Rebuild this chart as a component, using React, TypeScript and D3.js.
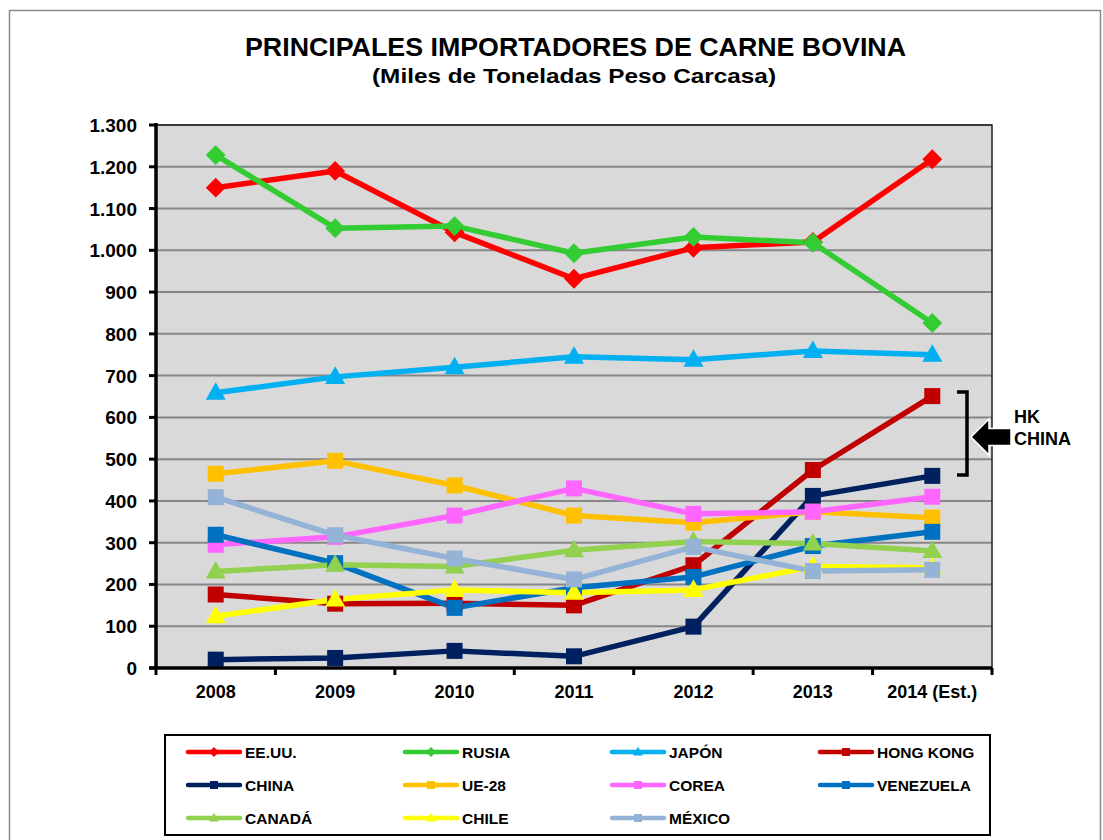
import React from "react";
import * as d3 from "d3";

const years = ["2008", "2009", "2010", "2011", "2012", "2013", "2014 (Est.)"];
const yTicks = [0, 100, 200, 300, 400, 500, 600, 700, 800, 900, 1000, 1100, 1200, 1300];

const eeuu = [1150, 1190, 1043, 932, 1006, 1020, 1218];
const rusia = [1228, 1053, 1058, 993, 1032, 1018, 826];
const japon = [659, 697, 720, 745, 738, 759, 750];
const hongKong = [176, 154, 155, 150, 246, 474, 651];
const china = [20, 24, 41, 28, 99, 412, 460];
const ue28 = [465, 496, 437, 365, 348, 374, 360];
const corea = [295, 314, 365, 430, 369, 374, 410];
const venezuela = [319, 251, 144, 192, 218, 292, 326];
const canada = [231, 247, 243, 282, 303, 298, 280];
const chile = [124, 164, 187, 180, 187, 243, 240];
const mexico = [409, 318, 262, 212, 290, 232, 235];

const series = [
  { name: "EE.UU.", values: eeuu, color: "#FF0000", marker: "diamond" },
  { name: "RUSIA", values: rusia, color: "#33CC33", marker: "diamond" },
  { name: "JAPÓN", values: japon, color: "#00B0F0", marker: "triangle" },
  { name: "HONG KONG", values: hongKong, color: "#C00000", marker: "square" },
  { name: "CHINA", values: china, color: "#002060", marker: "square" },
  { name: "UE-28", values: ue28, color: "#FFC000", marker: "square" },
  { name: "COREA", values: corea, color: "#FF66FF", marker: "square" },
  { name: "VENEZUELA", values: venezuela, color: "#0070C0", marker: "square" },
  { name: "CANADÁ", values: canada, color: "#92D050", marker: "triangle" },
  { name: "CHILE", values: chile, color: "#FFFF00", marker: "triangle" },
  { name: "MÉXICO", values: mexico, color: "#95B3D7", marker: "square" },
];

const font = "'Liberation Sans', Arial, sans-serif";

function Marker({ type, x, y, color, s }: { type: string; x: number; y: number; color: string; s: number }) {
  if (type === "square") {
    return <rect x={x - s / 2} y={y - s / 2} width={s} height={s} fill={color} />;
  }
  if (type === "diamond") {
    const r = s * 0.62;
    return <path d={`M${x},${y - r}L${x + r},${y}L${x},${y + r}L${x - r},${y}Z`} fill={color} />;
  }
  const w = s * 1.25;
  const h = s * 1.1;
  return <path d={`M${x},${y - h * 0.6}L${x + w / 2},${y + h * 0.4}L${x - w / 2},${y + h * 0.4}Z`} fill={color} />;
}

export default function App() {
  const left = 156;
  const right = 992;
  const top = 125;
  const bottom = 668;

  const x = d3.scaleBand().domain(years).range([left, right]);
  const y = d3.scaleLinear().domain([0, 1300]).range([bottom, top]);
  const fmt = d3.formatLocale({ decimal: ",", thousands: ".", grouping: [3], currency: ["", ""] }).format(",d");
  const cx = (d: string) => (x(d) as number) + x.bandwidth() / 2;

  const line = d3
    .line<number>()
    .x((_, i) => cx(years[i]))
    .y((v) => y(v));

  const legendCols = [188, 405, 612, 820];
  const legendRows = [752, 785, 818];

  return (
    <svg width={1103} height={840} style={{ position: "absolute", left: 0, top: 0 }} fontFamily={font}>
      <rect x={0} y={0} width={1103} height={840} fill="#fff" />
      <rect x={9.5} y={10.5} width={1091} height={840} fill="none" stroke="#888" strokeWidth={1.5} />

      <text x={575.5} y={56} textAnchor="middle" fontSize={25} fontWeight="bold" textLength={661} lengthAdjust="spacingAndGlyphs">
        PRINCIPALES IMPORTADORES DE CARNE BOVINA
      </text>
      <text x={574} y={83} textAnchor="middle" fontSize={20} fontWeight="bold" textLength={404} lengthAdjust="spacingAndGlyphs">
        (Miles de Toneladas Peso Carcasa)
      </text>

      <rect x={left} y={top} width={right - left} height={bottom - top} fill="#D9D9D9" />
      {yTicks.slice(1).map((t) => (
        <line key={t} x1={left} x2={right} y1={y(t)} y2={y(t)} stroke="#868686" strokeWidth={2} />
      ))}
      <path d={`M${left},${top}H${right}V${bottom}`} fill="none" stroke="#222" strokeWidth={1.5} />

      {series.map((s) => (
        <path key={s.name} d={line(s.values) || ""} fill="none" stroke={s.color} strokeWidth={5.5} strokeLinejoin="round" />
      ))}
      {series.map((s) =>
        s.values.map((v, i) => (
          <Marker key={s.name + i} type={s.marker} x={cx(years[i])} y={y(v)} color={s.color} s={16} />
        ))
      )}

      <line x1={left} x2={left} y1={top - 2} y2={bottom + 1.5} stroke="#000" strokeWidth={3.5} />
      <line x1={left - 7} x2={right} y1={bottom} y2={bottom} stroke="#000" strokeWidth={3.5} />
      {yTicks.map((t) => (
        <g key={t}>
          <line x1={left - 7} x2={left} y1={y(t)} y2={y(t)} stroke="#000" strokeWidth={3} />
          <text x={137} y={y(t) + 7} textAnchor="end" fontSize={19} fontWeight="bold">
            {fmt(t)}
          </text>
        </g>
      ))}
      {years.map((yr, i) => (
        <g key={yr}>
          <line x1={(x(yr) as number) + x.bandwidth()} x2={(x(yr) as number) + x.bandwidth()} y1={bottom} y2={bottom + 7} stroke="#000" strokeWidth={3} />
          {i === 0 && <line x1={left} x2={left} y1={bottom} y2={bottom + 7} stroke="#000" strokeWidth={3} />}
          <text x={cx(yr)} y={698} textAnchor="middle" fontSize={18} fontWeight="bold">
            {yr}
          </text>
        </g>
      ))}

      {/* bracket and arrow for HK / CHINA */}
      <path d="M957,392H967V475H957" fill="none" stroke="#000" strokeWidth={3.5} />
      <path d="M971,437L989,419V428.5H1011V445.5H989V455Z" fill="#000" stroke="#fff" strokeWidth={1.5} />
      <text x={1014} y={423} fontSize={18} fontWeight="bold">HK</text>
      <text x={1014} y={445} fontSize={18} fontWeight="bold">CHINA</text>

      <rect x={165} y={735} width={825} height={100} fill="#fff" stroke="#000" strokeWidth={2} />
      {series.map((s, i) => {
        const lx = legendCols[i % 4];
        const ly = legendRows[Math.floor(i / 4)];
        return (
          <g key={s.name}>
            <line x1={lx} x2={lx + 52} y1={ly} y2={ly} stroke={s.color} strokeWidth={4.5} strokeLinecap="round" />
            <Marker type={s.marker} x={lx + 26} y={ly} color={s.color} s={8} />
            <text x={lx + 57} y={ly + 5.5} fontSize={15.5} fontWeight="bold">
              {s.name}
            </text>
          </g>
        );
      })}
    </svg>
  );
}
